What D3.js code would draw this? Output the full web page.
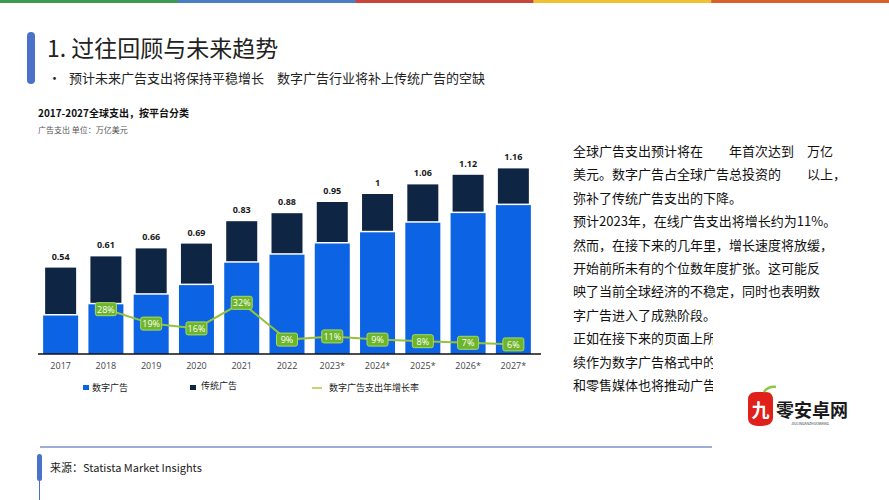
<!DOCTYPE html>
<html><head><meta charset="utf-8">
<script src="https://cdn.jsdelivr.net/npm/d3@7"></script>
<style>
html,body{margin:0;padding:0;background:#fff;}
svg{display:block;}
text{font-family:"Noto Sans CJK SC","Noto Sans",sans-serif;}
</style></head>
<body>
<svg id="c" width="889" height="500"></svg>
<script>
// ---- data ----
const years = ["2017","2018","2019","2020","2021","2022","2023*","2024*","2025*","2026*","2027*"];
const totals = [0.54,0.61,0.66,0.69,0.83,0.88,0.95,1,1.06,1.12,1.16];
const digital = [0.25,0.32,0.38,0.44,0.58,0.63,0.70,0.77,0.83,0.89,0.94];
const growth = [null,28,19,16,32,9,11,9,8,7,6];
const legendLabels = ["数字广告","传统广告","数字广告支出年增长率"];
const stripColors = ["#3d9a52","#4a80c2","#c9443a","#f0c132","#d9622b"];
const rightText = [
  "全球广告支出预计将在　　年首次达到　万亿",
  "美元。数字广告占全球广告总投资的　　以上，",
  "弥补了传统广告支出的下降。",
  "预计2023年，在线广告支出将增长约为11%。",
  "然而，在接下来的几年里，增长速度将放缓，",
  "开始前所未有的个位数年度扩张。这可能反",
  "映了当前全球经济的不稳定，同时也表明数",
  "字广告进入了成熟阶段。",
  "正如在接下来的页面上所示，搜索广告将继",
  "续作为数字广告格式中的领头羊，而社交媒体",
  "和零售媒体也将推动广告支出的增长。"
];

const svg = d3.select("#c");
const BLUE = "#0c63e4", NAVY = "#0f2544", GREEN_LINE = "#96c23a", GREEN_BOX = "#6db52b";

// top color strip
const stripX = d3.scaleBand().domain(d3.range(stripColors.length)).range([0,889]);
svg.selectAll("rect.strip").data(stripColors).join("rect")
  .attr("x",(d,i)=>stripX(i)).attr("y",0).attr("width",stripX.bandwidth()+0.5).attr("height",3)
  .attr("fill",d=>d);

// title block
svg.append("rect").attr("x",27).attr("y",32).attr("width",8).attr("height",52).attr("rx",4).attr("fill","#4a72c8");
svg.append("text").attr("x",47).attr("y",57).attr("font-size",23).attr("fill","#222").text("1. 过往回顾与未来趋势");
svg.append("text").attr("x",48).attr("y",83).attr("font-size",13).attr("fill","#222").text("•");
svg.append("text").attr("x",69).attr("y",83).attr("font-size",13).attr("fill","#222")
  .attr("xml:space","preserve").style("white-space","pre")
  .text("预计未来广告支出将保持平稳增长　数字广告行业将补上传统广告的空缺");

// chart header
svg.append("text").attr("x",38).attr("y",117).attr("font-size",10).attr("font-weight","bold").attr("fill","#111")
  .text("2017-2027全球支出，按平台分类");
svg.append("text").attr("x",38).attr("y",133).attr("font-size",8).attr("fill","#555")
  .text("广告支出 单位：万亿美元");

// scales
const x = d3.scaleBand().domain(years).range([38,536]).paddingInner(0.227).paddingOuter(0.1135);
const y = d3.scaleLinear().domain([0,1]).range([354,194]);
const bw = x.bandwidth();

const g = svg.append("g");
// traditional (navy) segment
g.selectAll("rect.trad").data(years).join("rect")
  .attr("x",d=>x(d)+2).attr("width",bw-4)
  .attr("y",(d,i)=>y(totals[i]))
  .attr("height",(d,i)=>y(digital[i])-y(totals[i]))
  .attr("fill",NAVY);
// digital (blue) segment
g.selectAll("rect.dig").data(years).join("rect")
  .attr("x",d=>x(d)).attr("width",bw)
  .attr("y",(d,i)=>y(digital[i])+1.5)
  .attr("height",(d,i)=>y(0)-y(digital[i])-1.5)
  .attr("fill",BLUE);
// total labels
g.selectAll("text.tot").data(years).join("text")
  .attr("x",d=>x(d)+bw/2).attr("y",(d,i)=>y(totals[i])-8)
  .attr("text-anchor","middle").attr("font-size",9).attr("font-weight","bold")
  .attr("fill","#1a1a1a").style("font-family","'Open Sans',sans-serif")
  .text((d,i)=>d3.format("")(totals[i]));

// axis
const xAxis = d3.axisBottom(x).tickSize(0).tickPadding(9);
const ax = svg.append("g").attr("transform","translate(0,354)").call(xAxis);
ax.select(".domain").attr("stroke","#111").attr("stroke-width",1.5).attr("d","M38,0H541");
ax.selectAll("text").attr("font-size",9).attr("fill","#444").style("font-family","'Open Sans',sans-serif");

// growth line
const gd = years.map((d,i)=>({year:d,v:growth[i]})).filter(d=>d.v!==null);
const line = d3.line().x(d=>x(d.year)+bw/2).y(d=>y(d.v/100));
svg.append("path").datum(gd).attr("d",line).attr("fill","none").attr("stroke",GREEN_LINE).attr("stroke-width",2);
const lg = svg.selectAll("g.gl").data(gd).join("g")
  .attr("transform",d=>`translate(${x(d.year)+bw/2},${y(d.v/100)})`);
lg.append("rect").attr("x",-10.5).attr("y",-6.5).attr("width",21).attr("height",13).attr("rx",2)
  .attr("fill",GREEN_BOX).attr("stroke","#a9da63").attr("stroke-width",1);
lg.append("text").attr("text-anchor","middle").attr("y",3.3).attr("font-size",9).attr("fill","#fff")
  .style("font-family","'Open Sans',sans-serif").text(d=>d.v+"%");

// legend
const leg = svg.append("g");
leg.append("rect").attr("x",83).attr("y",385).attr("width",6).attr("height",5).attr("fill",BLUE);
leg.append("text").attr("x",92).attr("y",391).attr("font-size",9).attr("fill","#222").text(legendLabels[0]);
leg.append("rect").attr("x",190).attr("y",385).attr("width",6).attr("height",5).attr("fill",NAVY);
leg.append("text").attr("x",201).attr("y",389).attr("font-size",9).attr("fill","#222").text(legendLabels[1]);
leg.append("line").attr("x1",312).attr("x2",322).attr("y1",388).attr("y2",388).attr("stroke","#b9c24a").attr("stroke-width",1.5);
leg.append("text").attr("x",329).attr("y",391).attr("font-size",9).attr("fill","#222").text(legendLabels[2]);

// right text
svg.append("clipPath").attr("id","clipR").append("rect").attr("x",560).attr("y",140).attr("width",153).attr("height",260);
const rt = svg.append("g");
rt.selectAll("text").data(rightText).join("text")
  .attr("x",573).attr("y",(d,i)=>156+i*23.4)
  .attr("font-size",13).attr("fill","#111")
  .attr("clip-path",(d,i)=>i>=8?"url(#clipR)":null)
  .attr("xml:space","preserve").style("white-space","pre")
  .text(d=>d);

// watermark logo
const wm = svg.append("g");
wm.append("path").attr("d","M748,400 Q748,392 756,392 L766,392 Q773,392 773,400 L773,418 Q773,426 760,426 Q748,426 748,418 Z").attr("fill","#e0201b");
wm.append("path").attr("d","M764,392 Q768,386 776,387").attr("fill","none").attr("stroke","#8dc63f").attr("stroke-width",2.5);
wm.append("text").attr("x",760.5).attr("y",417).attr("text-anchor","middle").attr("font-size",18).attr("font-weight","bold").attr("fill","#fff").text("九");
wm.append("text").attr("x",776).attr("y",417).attr("font-size",18).attr("font-weight","bold").attr("fill","#1a1a1a").text("零安卓网");
wm.append("text").attr("x",810).attr("y",425).attr("text-anchor","middle").attr("font-size",3.5).attr("fill","#333").text("JIULINGANZHUOWANG");

// footer
svg.append("line").attr("x1",40).attr("x2",712).attr("y1",447).attr("y2",447).attr("stroke","#7b93c6").attr("stroke-width",1.5);
svg.append("line").attr("x1",39.5).attr("x2",39.5).attr("y1",470).attr("y2",500).attr("stroke","#4a72c8").attr("stroke-width",1);
svg.append("rect").attr("x",37).attr("y",454).attr("width",5).attr("height",27).attr("rx",2.5).attr("fill","#4a72c8");
svg.append("text").attr("x",50).attr("y",472).attr("font-size",11).attr("fill","#222").text("来源：Statista Market Insights");
</script>
</body></html>
